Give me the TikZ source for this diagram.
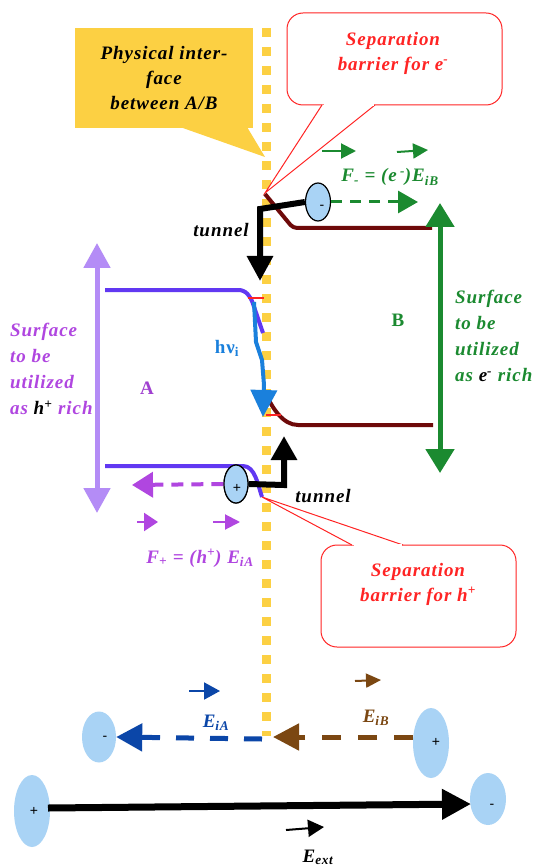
\documentclass[tikz,border=0pt]{standalone}
\usepackage{fontspec}
\setmainfont{Liberation Serif}[LetterSpace=5]
\newfontfamily\signfont{Liberation Sans}
\usetikzlibrary{arrows.meta,shapes.geometric}
\definecolor{gold}{HTML}{FCD043}
\definecolor{redc}{HTML}{FF2424}
\definecolor{greenc}{HTML}{1B8A30}
\definecolor{maroonc}{HTML}{6E0A0A}
\definecolor{bandA}{HTML}{6138F2}
\definecolor{purp}{HTML}{B046E0}
\definecolor{purpA}{HTML}{A040D0}
\definecolor{lilac}{HTML}{B48CF6}
\definecolor{hnuc}{HTML}{1A80DC}
\definecolor{ellb}{HTML}{A9D3F5}
\definecolor{eia}{HTML}{0B46A8}
\definecolor{eib}{HTML}{7B4712}
\tikzset{
  lbl/.style={inner sep=0pt, font=\fontsize{19}{25}\selectfont\bfseries\itshape},
  lblwide/.style={inner sep=0pt, font=\fontsize{19}{26}\selectfont\bfseries\itshape},
  upr/.style={inner sep=0pt, font=\fontsize{19}{25}\selectfont\bfseries},
  charge/.style={ellipse, fill=ellb, inner sep=0pt},
  chargeo/.style={charge, draw=black, line width=1.2pt},
  sign/.style={inner sep=0pt, font=\signfont\fontsize{14}{14}\selectfont},
  callout/.style={draw=redc, line width=1pt, fill=white},
}
\begin{document}
\begin{tikzpicture}[x=1pt,y=-1pt, line join=miter]
\useasboundingbox (0,0) rectangle (539,866);
\fill[white] (0,0) rectangle (539,866);

% physical interface
\draw[gold, line width=9pt, dash pattern=on 9pt off 10pt] (266,28) -- (266,736);

% yellow callout
\fill[gold] (75,28) rectangle (253,128);
\fill[gold] (180,127) -- (265,157) -- (247,127) -- cycle;
\node[lbl, align=center] (phys) at (164,78) {Physical inter-\\face\\between A/B};

% top red callout
\draw[callout, rounded corners=16pt] (287,13) rectangle (502,105);
\draw[callout] (322,105) -- (265,193) -- (375,105);
\fill[white] (323.5,103.8) rectangle (373.5,106.5);
\node[lbl, text=redc, align=center] (sepe) at (393,53) {Separation\\barrier for e\textsuperscript{-}};

% band B (maroon)
\draw[maroonc, line width=4pt, rounded corners=4pt] (265,194) -- (293,228) -- (432,228);
\draw[maroonc, line width=4pt] (265,392) .. controls (272,408) and (283,425) .. (298,425) -- (433,425);

% band A (blue-violet)
\draw[bandA, line width=4pt, rounded corners=5pt] (105,290) -- (244,290) -- (251,298) -- (263,333);
\draw[bandA, line width=4pt] (105,466) -- (243,466) .. controls (255,466) and (258,485) .. (262,497);

% red ticks
\draw[redc, line width=1.3pt] (248,298) -- (264,298);
\draw[redc, line width=1.3pt] (266,415) -- (281,415);

% h nu arrow
\draw[hnuc, line width=4pt, -{Triangle[length=27pt,width=26pt]}] (254,302) -- (256,342) -- (262,360) -- (264,385) -- (263,417);
\node[upr, text=hnuc, anchor=base] (hnu) at (227,353) {hν\textsubscript{i}};

% tunnel arrows
\node[chargeo, minimum width=25pt, minimum height=38pt] (em) at (318,202) {};
\node[sign] (emsign) at (322,207) {-};
\node[chargeo, minimum width=24pt, minimum height=38pt] (ep) at (236,484) {};
\draw[line width=6pt, -{Triangle[length=25pt,width=25pt]}] (em.west) -- (260,209) -- (260,281);
\draw[line width=6pt, -{Triangle[length=24pt,width=25pt]}] (ep.east) -- (284,485) -- (284,436);
\node[chargeo, minimum width=24pt, minimum height=38pt] (ep2) at (236,484) {};
\node[sign] (epsign) at (237,488) {+};
\node[lbl, anchor=base] (tun1) at (221,237) {tunnel};
\node[lbl, anchor=base] (tun2) at (323,502) {tunnel};

% electron force
\coordinate (fe) at (418,202);
\draw[greenc, line width=3pt, dash pattern=on 11pt off 8pt, -{Triangle[length=20pt,width=22pt]}] (em.east) -- (fe);
\draw[greenc, line width=2pt, -{Triangle[length=15pt,width=15pt]}] (322,151) -- (356,151);
\draw[greenc, line width=2pt, -{Triangle[length=15pt,width=15pt]}] (397,152) -- (428,150);
\node[lbl, text=greenc, anchor=base] (fminus) at (390,182) {F\textsubscript{-} = (e\,\textsuperscript{-})E\textsubscript{iB}};

% hole force
\coordinate (fh) at (132,485);
\draw[purp, line width=4pt, dash pattern=on 12pt off 8pt, -{Triangle[length=21pt,width=25pt]}] (ep2.west) -- (fh);
\draw[purp, line width=2pt, -{Triangle[length=14pt,width=18pt]}] (137,522) -- (158,522);
\draw[purp, line width=2pt, -{Triangle[length=15pt,width=15pt]}] (213,522) -- (240,522);
\node[lbl, text=purp, anchor=base] (fplus) at (200,563) {F\textsubscript{+} = (h\textsuperscript{+}) E\textsubscript{iA}};

% bottom red callout
\draw[callout, rounded corners=16pt] (321,545) rectangle (516,647);
\draw[callout] (352,545) -- (262,497) -- (403,545);
\fill[white] (353.5,543.8) rectangle (401.5,546.5);
\node[lbl, text=redc, align=center] (seph) at (418,584) {Separation\\barrier for h\textsuperscript{+}};

% surface arrows
\draw[lilac, line width=5pt, {Triangle[length=25pt,width=26pt]}-{Triangle[length=25pt,width=26pt]}] (97,243) -- (97,513);
\draw[greenc, line width=5pt, {Triangle[length=24pt,width=28pt]}-{Triangle[length=24pt,width=28pt]}] (440,203) -- (440,473);
\node[lblwide, text=purp, align=left, anchor=west] (surfA) at (10,369) {Surface\\to be\\utilized\\as \textcolor{black}{h\textsuperscript{+}} rich};
\node[lblwide, text=greenc, align=left, anchor=west] (surfB) at (455,336) {Surface\\to be\\utilized\\as \textcolor{black}{e\textsuperscript{-}} rich};
\node[upr, text=purpA] (A) at (147,388) {A};
\node[upr, text=greenc] (B) at (398,320) {B};

% internal fields
\node[charge, minimum width=34pt, minimum height=51pt] (cm1) at (99,737) {};
\node[sign] (cm1s) at (105,738) {-};
\node[charge, minimum width=36pt, minimum height=70pt] (cp1) at (431,743) {};
\node[sign] (cp1s) at (436,742) {+};
\coordinate (ifA) at (262,739);
\coordinate (ifB) at (273,737);
\coordinate (ebs) at (413,737);
\draw[eia, line width=5pt, dash pattern=on 18pt off 16pt, -{Triangle[length=26pt,width=27pt]}] (ifA) -- (cm1.east);
\draw[eib, line width=5pt, dash pattern=on 19pt off 17pt, -{Triangle[length=26pt,width=26pt]}] (ebs) -- (ifB);
\draw[eia, line width=2pt, -{Triangle[length=16pt,width=17pt]}] (189,691) -- (220,691);
\draw[eib, line width=2pt, -{Triangle[length=15pt,width=14pt]}] (355,681) -- (381,680);
\node[lbl, text=eia, anchor=base] (EiA) at (216,727) {E\textsubscript{iA}};
\node[lbl, text=eib, anchor=base] (EiB) at (376,722) {E\textsubscript{iB}};

% external field
\node[charge, minimum width=36pt, minimum height=72pt] (cp2) at (32,811) {};
\node[sign] (cp2s) at (34,811) {+};
\node[charge, minimum width=36pt, minimum height=52pt] (cm2) at (488,799) {};
\node[sign] (cm2s) at (492,806) {-};
\coordinate (ext0) at (48,808);
\coordinate (ext1) at (471,804);
\draw[line width=7pt, -{Triangle[length=29pt,width=29pt]}] (ext0) -- (ext1);
\draw[line width=2pt, -{Triangle[length=16pt,width=17pt]}] (286,830) -- (324,827);
\node[lbl, anchor=base] (Eext) at (318,862) {E\textsubscript{ext}};
\end{tikzpicture}
\end{document}
